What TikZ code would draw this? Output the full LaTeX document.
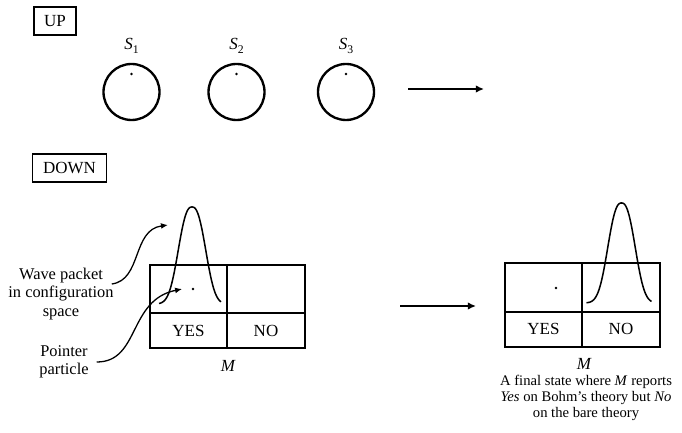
\documentclass[tikz,border=0pt]{standalone}
\usepackage{fontspec}
\setmainfont{Liberation Serif}
\usetikzlibrary{arrows.meta, positioning}

% one unit = one pixel of the 682 x 433 sketch
\tikzset{
  tag/.style={draw, line width=1.6pt, inner xsep=9pt, inner ysep=0pt, minimum height=0.84cm, font=\fontsize{14.5}{16}\selectfont},
  system/.style={draw, circle, line width=2pt, minimum size=1.68cm, inner sep=0pt},
  particle/.style={circle, fill, inner sep=0pt, minimum size=2.2pt},
  note/.style={align=center, font=\fontsize{14}{15.5}\selectfont},
  cellnote/.style={font=\fontsize{14.5}{16}\selectfont},
  frame/.style={line width=2pt},
  packet/.style={line width=1.3pt, smooth},
  jump/.style={line width=2.2pt, -{Latex[length=7pt, width=6.5pt]}},
  pointto/.style={line width=1.1pt, -{Latex[length=6pt, width=5pt]}}
}
\newcommand{\sysname}[1]{\textit{S}\lower0.45ex\hbox{\fontsize{10}{10}\selectfont #1}}

\begin{document}
\begin{tikzpicture}[x=0.03cm, y=-0.03cm]
  \useasboundingbox (0,0) rectangle (682,433);

  % UP: three systems
  \node[tag] (up) at (55,21) {UP};
  \foreach \i/\x in {1/131.5, 2/236.5, 3/346} {
    \node[system] (s\i) at (\x,92) {};
    \node[particle] (p\i) at (\x,74) {};
    \node[font=\fontsize{14.5}{16}\selectfont] (l\i) at (\x,46) {\sysname{\i}};
  }
  \coordinate (upfrom) at (408,89);
  \coordinate (upto) at (484,89);
  \draw[jump] (upfrom) -- (upto);

  % DOWN: measuring device before
  \node[tag] (down) at (69.5,168) {DOWN};
  \draw[frame] (150,265) rectangle (305,348);
  \draw[frame] (150,313) -- (305,313);
  \draw[frame] (227,265) -- (227,348);
  \node[cellnote] (yes1) at (188.5,331) {YES};
  \node[cellnote] (no1) at (266,331) {NO};
  \node[cellnote, font=\fontsize{14.5}{16}\selectfont\itshape] (m1) at (228,366) {M};
  \node[particle] (dot1) at (193,289) {};
  \draw[packet] plot[domain=-33:29, samples=90] ({192+\x},{304-97*exp(-pow(abs(\x)/17,2.5))});
  \coordinate (peak1) at (168,225);

  % labels on the left
  \node[note] (wave) at (61,294) {Wave packet\\in configuration\\space};
  \node[note] (pointer) at (64,362) {Pointer\\particle};
  \draw[pointto] ([shift={(-6,-10)}]wave.east) .. controls (142,280) and (132,230) .. (peak1);
  \draw[pointto] ([shift={(4,0)}]pointer.east) .. controls (140,362) and (128,300) .. ([xshift=-8]dot1.west);

  % measuring device after
  \coordinate (downfrom) at (400,306);
  \coordinate (downto) at (476,306);
  \draw[jump] (downfrom) -- (downto);
  \draw[frame] (505,263) rectangle (660,347);
  \draw[frame] (505,312) -- (660,312);
  \draw[frame] (582,263) -- (582,347);
  \node[cellnote] (yes2) at (543.5,329) {YES};
  \node[cellnote] (no2) at (621,329) {NO};
  \node[particle] (dot2) at (556,288) {};
  \draw[packet] plot[domain=-35:30, samples=90] ({621.5+\x},{303-100*exp(-pow(abs(\x)/17,2.5))});
  \node[cellnote, font=\fontsize{14.5}{16}\selectfont\itshape] (m2) at (584,364) {M};
  \node[align=center, font=\fontsize{12.5}{13.5}\selectfont] (final) at (586,398)
    {A final state where \textit{M} reports\\\textit{Yes} on Bohm's theory but \textit{No}\\on the bare theory};
\end{tikzpicture}
\end{document}
